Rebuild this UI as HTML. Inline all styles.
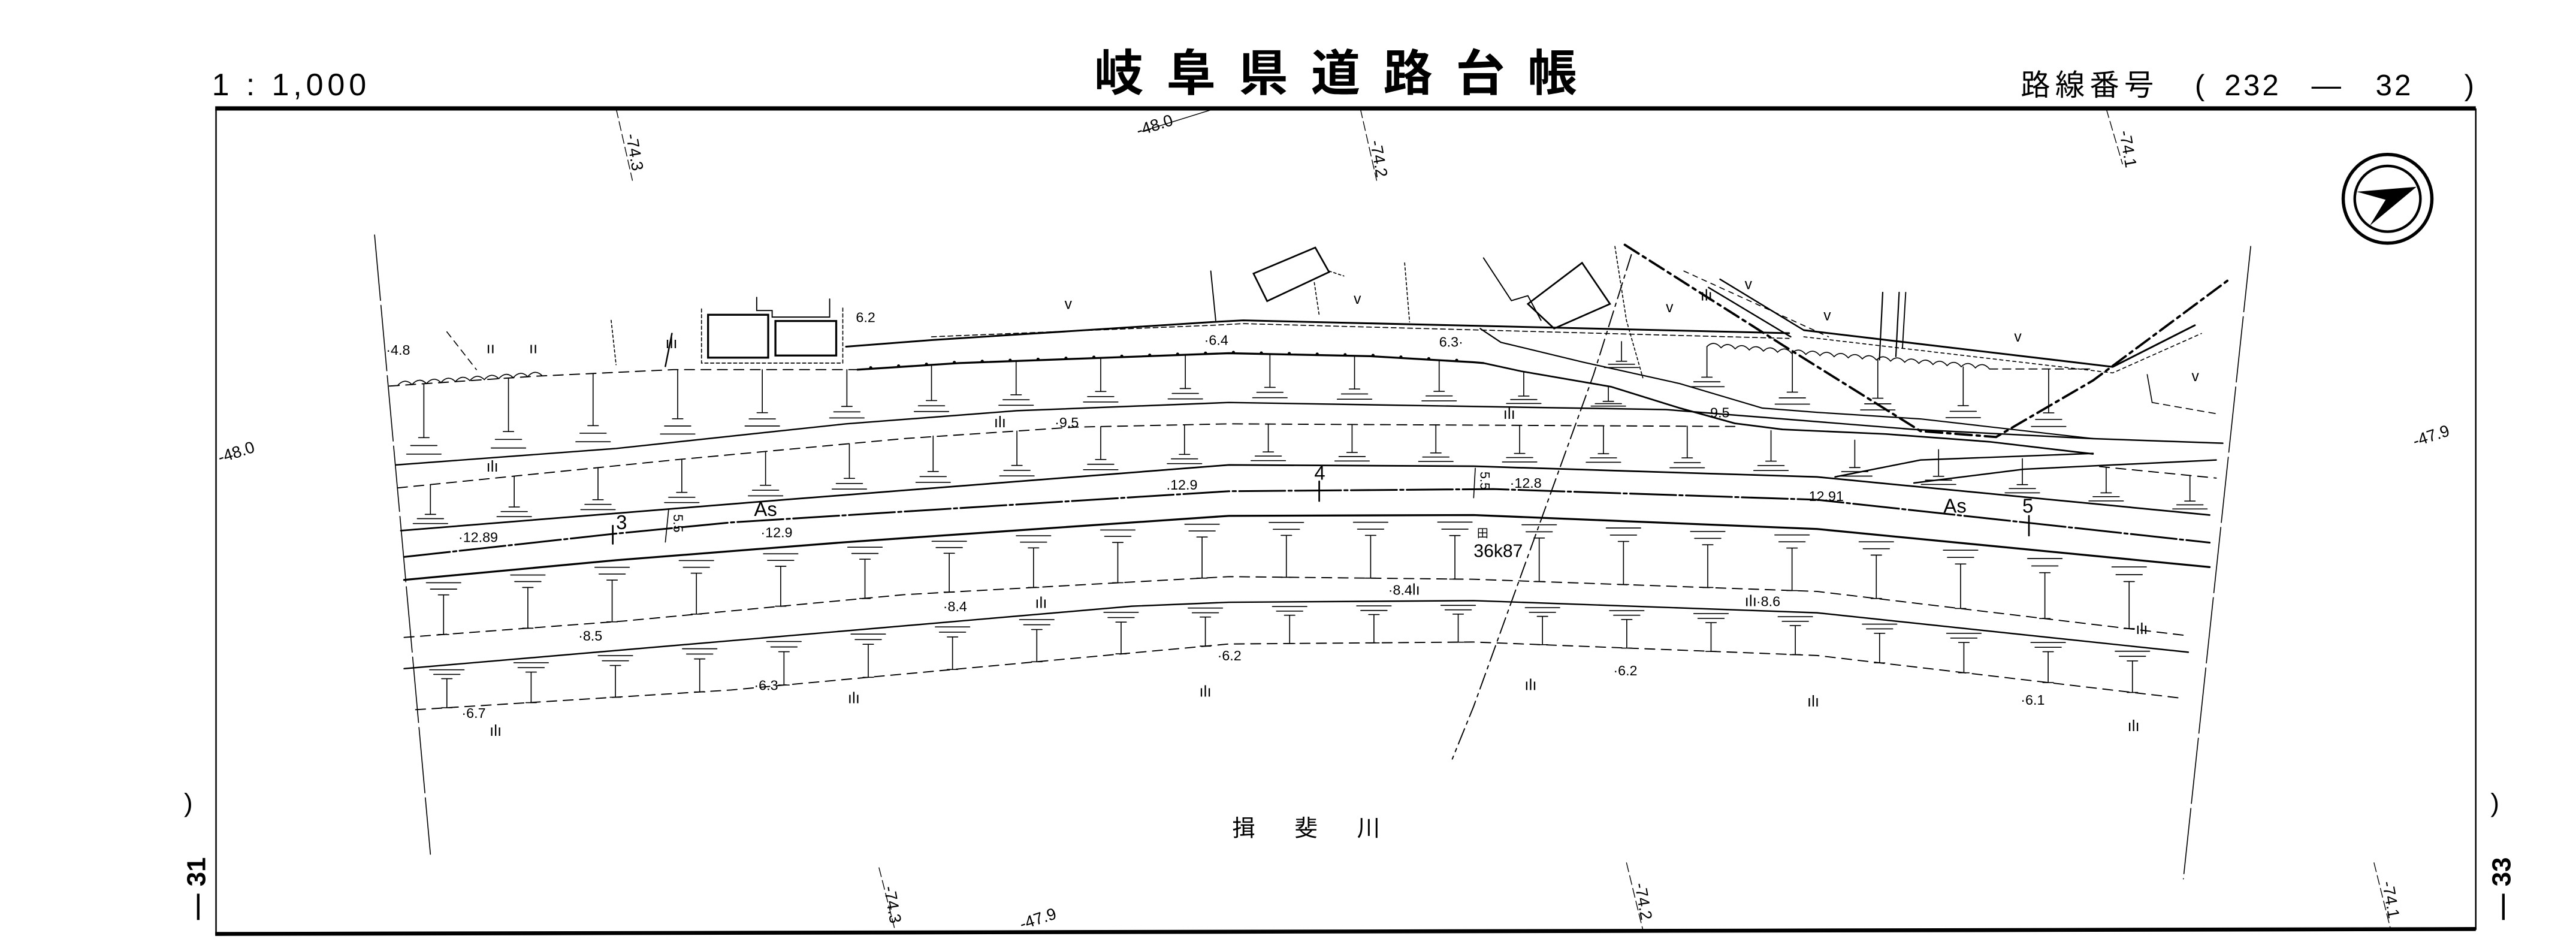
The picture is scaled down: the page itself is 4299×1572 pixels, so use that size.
<!DOCTYPE html>
<html><head><meta charset="utf-8">
<style>
html,body{margin:0;padding:0;background:#fff;}
svg{display:block;}
text{font-family:"Liberation Sans","Noto Sans CJK JP",sans-serif;fill:#000;}
.n{font-size:8.5px;}
.c{font-size:9.5px;}
</style></head>
<body>
<svg xmlns="http://www.w3.org/2000/svg" width="4299" height="1572" viewBox="0 0 1568 573.4" preserveAspectRatio="none">
<rect width="1568" height="573.4" fill="#fff"/>
<text x="129" y="58" style="font-size:19px;letter-spacing:2.5px">1 : 1,000</text>
<text x="666" y="55" style="font-size:30px;font-weight:bold;letter-spacing:14px;font-family:'Noto Sans CJK JP',sans-serif">岐阜県道路台帳</text>
<g style="font-size:18px;font-family:'Liberation Sans','Noto Sans CJK JP',sans-serif">
<text x="1230" y="58" style="letter-spacing:3px">路線番号</text>
<text x="1336" y="58">(</text>
<text x="1354" y="58" style="letter-spacing:1.5px">232</text>
<text x="1407" y="58">—</text>
<text x="1446" y="58" style="letter-spacing:1.5px">32</text>
<text x="1500" y="58">)</text>
</g>
<line x1="131" y1="66" x2="1507" y2="66" stroke="#000" stroke-width="2.6"/>
<line x1="131" y1="568.5" x2="1507" y2="565.5" stroke="#000" stroke-width="2.4"/>
<line x1="131.5" y1="66" x2="131.5" y2="569" stroke="#000" stroke-width="0.9"/>
<line x1="1507" y1="66" x2="1507" y2="566" stroke="#000" stroke-width="0.9"/>
<text x="112" y="494" style="font-size:16px">)</text>
<text x="1516" y="494" style="font-size:16px">)</text>
<text transform="translate(125,560) rotate(-90)" style="font-size:16px;font-weight:bold">— 31</text>
<text transform="translate(1528,560) rotate(-90)" style="font-size:16px;font-weight:bold">— 33</text>
<circle cx="1453.3" cy="121" r="27" fill="none" stroke="#000" stroke-width="2"/>
<circle cx="1453.3" cy="121" r="20" fill="none" stroke="#000" stroke-width="1.6"/>
<path d="M1434.5,116.7 L1470.9,113.7 L1442.4,137.4 L1452.1,121.6 Z" fill="#000"/>
<g style="font-size:10px">
<text transform="translate(381,82) rotate(80)">-74.3</text>
<text transform="translate(693,83) rotate(-18)">-48.0</text>
<text transform="translate(834,86) rotate(80)">-74.2</text>
<text transform="translate(1290,80) rotate(80)">-74.1</text>
<text transform="translate(134,282) rotate(-18)">-48.0</text>
<text transform="translate(1470,272) rotate(-18)">-47.9</text>
<text transform="translate(538,540) rotate(80)">-74.3</text>
<text transform="translate(622,566) rotate(-18)">-47.9</text>
<text transform="translate(995,538) rotate(80)">-74.2</text>
<text transform="translate(1450,537) rotate(80)">-74.1</text>
</g>
<g stroke="#000" stroke-width="0.5" fill="none">
<line x1="375" y1="66" x2="385" y2="110" stroke-dasharray="6,2"/>
<line x1="828" y1="66" x2="838" y2="110" stroke-dasharray="6,2"/>
<line x1="1282" y1="66" x2="1292" y2="100" stroke-dasharray="6,2"/>
<line x1="695" y1="80" x2="740" y2="66"/>
<line x1="535" y1="528" x2="545" y2="567" stroke-dasharray="6,2"/>
<line x1="990" y1="525" x2="1000" y2="566" stroke-dasharray="6,2"/>
<line x1="1445" y1="525" x2="1455" y2="565" stroke-dasharray="6,2"/>
</g>

<g stroke="#000" fill="none" stroke-width="0.6" stroke-linecap="round">
<line x1="228" y1="143" x2="262" y2="520" stroke-dasharray="40,3"/>
<line x1="1370" y1="150" x2="1329" y2="535" stroke-dasharray="40,3"/>
<polyline points="237,235 326,229 410,225 522,225" stroke-width="0.7" stroke-dasharray="6,4"/>
<polyline points="522,225 584,221 748,215 834,216.8 897,220.5 903,221" stroke-width="1.2"/>
<polyline points="530,223.8 584,220.4 748,214.4 834,216.2 897,219.9" stroke-width="1.9" stroke-dasharray="0,17"/>
<polyline points="903,221 926,226 980.6,235.4 1022.5,248.4 1056,257.7 1085,261.4 1148,264.2 1211,268.9 1274,276.3" stroke-width="1.0"/>
<polyline points="901,200 913.6,208.4 963.9,220.5 1022.5,233.5 1072.7,248.4 1106,251 1169,255 1274,267" stroke-width="0.8"/>
<polyline points="241,283 375,273 515,258 619,250 748,245 1014,249.3 1165,261.4 1274,267 1353,269.8" stroke-width="0.9"/>
<polyline points="242,297 410,280 550,267 654,260 748,258 1056,259.6" stroke-width="0.7" stroke-dasharray="6,4"/>
<line x1="1278" y1="284" x2="1349" y2="291" stroke-width="0.7" stroke-dasharray="6,4"/>
<polyline points="244,323 480,304 748,283 897,283.8 1106,290.3 1345,313.5" stroke-width="1.0"/>
<polyline points="246,339 373,325 445,318 748,299 909,297.7 1106,304.2 1345,330.3" stroke-width="1.1" stroke-dasharray="28,2,2,2"/>
<polyline points="246,353 375,341 515,330 748,314 897,313.5 1106,322 1345,345.2" stroke-width="1.2"/>
<polyline points="246,388 380,378 550,362 748,351 897,352.6 1106,360 1332,387" stroke-width="0.7" stroke-dasharray="6,4"/>
<polyline points="246,407 515,384 689,369 748,366.6 897,365.6 1106,373 1332,397" stroke-width="0.9"/>
<polyline points="253,432 445,420 748,392 897,390.8 1106,399 1328,425" stroke-width="0.7" stroke-dasharray="6,4"/>
<polyline points="1117,290.3 1169,280 1274,276" stroke-width="0.9"/>
<polyline points="1165,294 1232,285.6 1349,280" stroke-width="0.9"/>
<path d="M242,234.7 q4.4,-5 8.8,-0.6 q4.4,-5 8.8,-0.6 q4.4,-5 8.8,-0.6 q4.4,-5 8.8,-0.6 q4.4,-5 8.8,-0.6 q4.4,-5 8.8,-0.6 q4.4,-5 8.8,-0.6 q4.4,-5 8.8,-0.6 q4.4,-5 8.8,-0.6 q4.4,-5 8.8,-0.6"/>
<path d="M1039,211 q4.3,-4.3 8.6,0.68 q4.3,-4.3 8.6,0.68 q4.3,-4.3 8.6,0.68 q4.3,-4.3 8.6,0.68 q4.3,-4.3 8.6,0.68 q4.3,-4.3 8.6,0.68 q4.3,-4.3 8.6,0.68 q4.3,-4.3 8.6,0.68 q4.3,-4.3 8.6,0.68 q4.3,-4.3 8.6,0.68 q4.3,-4.3 8.6,0.68 q4.3,-4.3 8.6,0.68 q4.3,-4.3 8.6,0.68 q4.3,-4.3 8.6,0.68 q4.3,-4.3 8.6,0.68 q4.3,-4.3 8.6,0.68 q4.3,-4.3 8.6,0.68 q4.3,-4.3 8.6,0.68 q4.3,-4.3 8.6,0.68 q4.3,-4.3 8.6,0.68"/>
<line x1="1211" y1="224.6" x2="1274" y2="224.6" stroke-dasharray="5,3"/>
<polyline points="515,211 567,207 738,196 756.6,195 1089,202.8" stroke-width="1.1"/>
<polyline points="567,205 738,198 756.6,197 1089,206" stroke-dasharray="3,2"/>
<polyline points="1098,201 1286,223.3 1336,198" stroke-width="1.1"/>
<polyline points="1098,205 1286,227 1340,203" stroke-dasharray="2,2"/>
<line x1="1047" y1="170" x2="1098" y2="201" stroke-width="0.9"/>
<line x1="1040" y1="175" x2="1090" y2="205" stroke-width="0.9"/>
<line x1="1146" y1="178" x2="1144" y2="219" stroke-width="0.8"/>
<line x1="1156" y1="178" x2="1154" y2="217" stroke-width="0.8"/>
<polyline points="989,149 1085,210 1169,262.4 1215,266 1274,231.6 1357,170" stroke-width="1.4" stroke-dasharray="10,3,2,3"/>
<line x1="1025" y1="165" x2="1113" y2="205" stroke-dasharray="3,3"/>
<polyline points="993,155 970,228 897,430 884,462" stroke-width="0.7" stroke-dasharray="10,3,2,3"/>
<rect x="431" y="191.6" width="36.6" height="26.1" stroke-width="1.2"/>
<rect x="472" y="195.4" width="37" height="21" stroke-width="1.2"/>
<polyline points="427,188 427,221 513,221 513,186" stroke-dasharray="2,1.5"/>
<polyline points="460.6,181 460.6,189 470,189 470,193 505,193 505,182" stroke-width="0.7"/>
<polygon points="763,166.5 800.6,150.7 809,165.6 771.3,183.3" stroke-width="1.0"/>
<line x1="809" y1="165" x2="818" y2="168" stroke-dasharray="1.5,1.5"/>
<line x1="800" y1="172" x2="803" y2="192" stroke-dasharray="1.5,1.5"/>
<line x1="855" y1="160" x2="858" y2="196" stroke-dasharray="1.5,1.5"/>
<polygon points="930,185 963,160 980,185 946,200" stroke-width="1.0"/>
<polyline points="903,157 920,183 930,180 938,195" stroke-width="0.7"/>
<polyline points="983,150 990,195 1000,230" stroke-dasharray="1.5,1.5"/>
<line x1="372" y1="195" x2="375" y2="222" stroke-dasharray="1.5,1.5"/>
<line x1="737" y1="165" x2="740" y2="195" stroke-width="0.7"/>
<line x1="1160" y1="178" x2="1158" y2="212" stroke-width="0.7"/>
<line x1="1307" y1="228" x2="1310" y2="245"/>
<line x1="1310" y1="245" x2="1350" y2="252" stroke-dasharray="4,3"/>
<line x1="409" y1="203" x2="405" y2="223" stroke-width="0.9"/>
<line x1="272" y1="202" x2="290" y2="225" stroke-dasharray="4,3"/>
<line x1="373" y1="320" x2="373" y2="331" stroke-width="1.0"/>
<line x1="803" y1="293" x2="803" y2="305" stroke-width="1.0"/>
<line x1="1235" y1="314" x2="1235" y2="326" stroke-width="1.0"/>
<line x1="407" y1="310" x2="405" y2="330"/>
<line x1="898" y1="285" x2="897" y2="303"/>

<path d="
M258,233.8V266.4M254.8,266.4h6.4M250,271.2h16M247.5,276.4h21
M309.5,230.4V262.7M306.3,262.7h6.4M301.5,267.5h16M299,272.7h21
M361,227.3V259.1M357.8,259.1h6.4M353,263.7h16M350.5,268.9h21
M412.5,225V254.9M409.3,254.9h6.4M404.5,259.3h16M402,264.2h21
M464,225V251.2M460.8,251.2h6.4M456,255h16M453.5,259.3h21
M515.5,225V247.4M512.3,247.4h6.4M507.5,250.7h16M505,254.4h21
M567,222.1V243.8M563.8,243.8h6.4M559,247h16M556.5,250.5h21
M618.5,219.7V240.3M615.3,240.3h6.4M610.5,243.3h16M608,246.7h21
M670,217.8V238.3M666.8,238.3h6.4M662,241.4h16M659.5,244.7h21
M721.5,216V236.5M718.3,236.5h6.4M713.5,239.5h16M711,242.8h21
M773,215.5V235.8M769.8,235.8h6.4M765,238.8h16M762.5,242.1h21
M824.5,216.6V236.8M821.3,236.8h6.4M816.5,239.8h16M814,243h21
M876,219.3V238.2M872.8,238.2h6.4M868,241h16M865.5,244h21
M927.5,226.3V241.1M924.3,241.1h6.4M919.5,243.2h16M917,245.6h21
M979,235.1V244.3M975.8,244.3h6.4M971,245.7h16M968.5,247.2h21
"/>
<path d="
M987,207.9V219.9M983.8,219.9h6.4M979,221.7h16M976.5,223.7h21
M1039,211V229.6M1035.8,229.6h6.4M1031,232.4h16M1028.5,235.4h21
M1091,215.1V238.7M1087.8,238.7h6.4M1083,242.2h16M1080.5,246h21
M1143,219.2V242.4M1139.8,242.4h6.4M1135,245.8h16M1132.5,249.5h21
M1195,223.3V246.9M1191.8,246.9h6.4M1187,250.4h16M1184.5,254.2h21
M1247,224.6V251.3M1243.8,251.3h6.4M1239,255.3h16M1236.5,259.6h21
"/>
<path d="
M262,295V313.1M258.8,313.1h6.4M254,315.7h16M251.5,318.7h21
M313,289.8V308.6M309.8,308.6h6.4M305,311.4h16M302.5,314.5h21
M364,284.7V304.2M360.8,304.2h6.4M356,307h16M353.5,310.2h21
M415,279.5V299.7M411.8,299.7h6.4M407,302.7h16M404.5,305.9h21
M466,274.8V295.4M462.8,295.4h6.4M458,298.4h16M455.5,301.8h21
M517,270.1V291.2M513.8,291.2h6.4M509,294.3h16M506.5,297.7h21
M568,265.4V287M564.8,287h6.4M560,290.1h16M557.5,293.6h21
M619,262.4V283.3M615.8,283.3h6.4M611,286.3h16M608.5,289.7h21
M670,259.7V279.7M666.8,279.7h6.4M662,282.6h16M659.5,285.9h21
M721,258.6V276.6M717.8,276.6h6.4M713,279.3h16M710.5,282.2h21
M772,258.1V275.1M768.8,275.1h6.4M764,277.6h16M761.5,280.4h21
M823,258.4V275.4M819.8,275.4h6.4M815,277.9h16M812.5,280.6h21
M874,258.6V275.7M870.8,275.7h6.4M866,278.2h16M863.5,280.9h21
M925,258.9V276M921.8,276h6.4M917,278.5h16M914.5,281.2h21
M976,259.2V276.2M972.8,276.2h6.4M968,278.7h16M965.5,281.4h21
M1027,259.4V278.7M1023.8,278.7h6.4M1019,281.6h16M1016.5,284.7h21
M1078,262.1V280.7M1074.8,280.7h6.4M1070,283.4h16M1067.5,286.4h21
M1129,267.9V284.6M1125.8,284.6h6.4M1121,287.1h16M1118.5,289.8h21
M1180,273.7V289.9M1176.8,289.9h6.4M1172,292.3h16M1169.5,294.9h21
M1231,279.2V295M1227.8,295h6.4M1223,297.4h16M1220.5,300h21
M1282,284.4V300M1278.8,300h6.4M1274,302.3h16M1271.5,304.9h21
M1333,289.4V305M1329.8,305h6.4M1325,307.3h16M1322.5,309.8h21
"/>
<path d="
M270,386.2V362.1M266.8,362.1h6.4M266.8,386.2h6.4M262,358.6h16M259.5,354.7h21
M321.3,382.4V357.6M318.1,357.6h6.4M318.1,382.4h6.4M313.3,354h16M310.8,350h21
M372.6,378.5V353.1M369.4,353.1h6.4M369.4,378.5h6.4M364.6,349.4h16M362.1,345.3h21
M423.9,373.8V348.9M420.7,348.9h6.4M420.7,373.8h6.4M415.9,345.3h16M413.4,341.2h21
M475.2,369V344.7M472,344.7h6.4M472,369h6.4M467.2,341.1h16M464.7,337.1h21
M526.5,364.3V340.4M523.3,340.4h6.4M523.3,364.3h6.4M518.5,336.9h16M516,333.1h21
M577.8,360.4V336.8M574.6,336.8h6.4M574.6,360.4h6.4M569.8,333.3h16M567.3,329.5h21
M629.1,357.6V333.5M625.9,333.5h6.4M625.9,357.6h6.4M621.1,330h16M618.6,326.1h21
M680.4,354.7V330.2M677.2,330.2h6.4M677.2,354.7h6.4M672.4,326.5h16M669.9,322.6h21
M731.7,351.9V326.9M728.5,326.9h6.4M728.5,351.9h6.4M723.7,323.2h16M721.2,319.1h21
M783,351.4V325.9M779.8,325.9h6.4M779.8,351.4h6.4M775,322.2h16M772.5,318h21
M834.3,351.9V325.9M831.1,325.9h6.4M831.1,351.9h6.4M826.3,322.1h16M823.8,317.9h21
M885.6,352.5V326M882.4,326h6.4M882.4,352.5h6.4M877.6,322.1h16M875.1,317.8h21
M936.9,354V327.5M933.7,327.5h6.4M933.7,354h6.4M928.9,323.7h16M926.4,319.4h21
M988.2,355.8V329.6M985,329.6h6.4M985,355.8h6.4M980.2,325.7h16M977.7,321.4h21
M1039.5,357.6V331.6M1036.3,331.6h6.4M1036.3,357.6h6.4M1031.5,327.7h16M1029,323.5h21
M1090.8,359.5V333.6M1087.6,333.6h6.4M1087.6,359.5h6.4M1082.8,329.8h16M1080.3,325.6h21
M1142.1,364.3V337.9M1138.9,337.9h6.4M1138.9,364.3h6.4M1134.1,334h16M1131.6,329.8h21
M1193.4,370.4V343.3M1190.2,343.3h6.4M1190.2,370.4h6.4M1185.4,339.3h16M1182.9,334.9h21
M1244.7,376.5V348.6M1241.5,348.6h6.4M1241.5,376.5h6.4M1236.7,344.5h16M1234.2,340h21
M1296,382.6V354M1292.8,354h6.4M1292.8,382.6h6.4M1288,349.8h16M1285.5,345.1h21
"/>
<path d="
M272,430.8V413.1M268.8,413.1h6.4M268.8,430.8h6.4M264,410.5h16M261.5,407.7h21
M323.3,427.7V409.1M320.1,409.1h6.4M320.1,427.7h6.4M315.3,406.4h16M312.8,403.4h21
M374.6,424.4V405.1M371.4,405.1h6.4M371.4,424.4h6.4M366.6,402.2h16M364.1,399.1h21
M425.9,421.2V401.1M422.7,401.1h6.4M422.7,421.2h6.4M417.9,398.1h16M415.4,394.9h21
M477.2,417V396.7M474,396.7h6.4M474,417h6.4M469.2,393.8h16M466.7,390.5h21
M528.5,412.3V392.2M525.3,392.2h6.4M525.3,412.3h6.4M520.5,389.3h16M518,386h21
M579.8,407.5V387.7M576.6,387.7h6.4M576.6,407.5h6.4M571.8,384.8h16M569.3,381.6h21
M631.1,402.8V383.2M627.9,383.2h6.4M627.9,402.8h6.4M623.1,380.3h16M620.6,377.2h21
M682.4,398V378.7M679.2,378.7h6.4M679.2,398h6.4M674.4,375.9h16M671.9,372.7h21
M733.7,393.3V375.6M730.5,375.6h6.4M730.5,393.3h6.4M725.7,373h16M723.2,370.1h21
M785,391.7V374.5M781.8,374.5h6.4M781.8,391.7h6.4M777,372h16M774.5,369.2h21
M836.3,391.3V374.1M833.1,374.1h6.4M833.1,391.3h6.4M828.3,371.6h16M825.8,368.8h21
M887.6,390.9V373.8M884.4,373.8h6.4M884.4,390.9h6.4M879.6,371.2h16M877.1,368.5h21
M938.9,392.4V375.2M935.7,375.2h6.4M935.7,392.4h6.4M930.9,372.7h16M928.4,369.9h21
M990.2,394.5V377.1M987,377.1h6.4M987,394.5h6.4M982.2,374.5h16M979.7,371.7h21
M1041.5,396.5V379M1038.3,379h6.4M1038.3,396.5h6.4M1033.5,376.4h16M1031,373.5h21
M1092.8,398.5V380.8M1089.6,380.8h6.4M1089.6,398.5h6.4M1084.8,378.2h16M1082.3,375.4h21
M1144.1,403.5V385.5M1140.9,385.5h6.4M1140.9,403.5h6.4M1136.1,382.8h16M1133.6,379.9h21
M1195.4,409.5V391.1M1192.2,391.1h6.4M1192.2,409.5h6.4M1187.4,388.4h16M1184.9,385.5h21
M1246.7,415.5V396.7M1243.5,396.7h6.4M1243.5,415.5h6.4M1238.7,394h16M1236.2,391.1h21
M1298,421.5V402.3M1294.8,402.3h6.4M1294.8,421.5h6.4M1290,399.5h16M1287.5,396.4h21
"/>
</g>

<g class="n">
<text x="235" y="216">·4.8</text>
<text x="521" y="196">6.2</text>
<text x="733" y="210">·6.4</text>
<text x="876" y="211">6.3·</text>
<text x="642" y="260">·9.5</text>
<text x="1041" y="254">9.5</text>
<text x="279" y="330">·12.89</text>
<text x="463" y="327">·12.9</text>
<text x="710" y="298">.12.9</text>
<text x="919" y="297">·12.8</text>
<text x="1101" y="305">12.91</text>
<text x="352" y="390">·8.5</text>
<text x="574" y="372">·8.4</text>
<text x="845" y="362">·8.4</text>
<text x="1069" y="369">·8.6</text>
<text x="459" y="420">·6.3</text>
<text x="741" y="402">·6.2</text>
<text x="982" y="411">·6.2</text>
<text x="1230" y="429">·6.1</text>
<text x="281" y="437">·6.7</text>
</g>
<g style="font-size:12px">
<text x="375" y="322">3</text>
<text x="459" y="314">As</text>
<text x="800" y="292">4</text>
<text x="1183" y="312">As</text>
<text x="1231" y="312">5</text>
<text x="897" y="339" style="font-size:11px">36k87</text>
<text x="899" y="327" style="font-size:7px">田</text>
<text transform="translate(410,313) rotate(90)" style="font-size:8px">5.5</text>
<text transform="translate(901,287) rotate(90)" style="font-size:8px">5.5</text>
</g>
<g class="c">
<text x="405" y="212">ılı</text><text x="296" y="287">ılı</text><text x="630" y="370">ılı</text>
<text x="298" y="448">ılı</text><text x="516" y="428">ılı</text><text x="730" y="424">ılı</text>
<text x="928" y="420">ılı</text><text x="1100" y="430">ılı</text><text x="1295" y="445">ılı</text>
<text x="1062" y="369">ılı</text><text x="1300" y="386">ılı</text><text x="857" y="362">ılı</text>
<text x="605" y="260">ılı</text><text x="915" y="255">ılı</text><text x="1035" y="183">ılı</text>
<text x="296" y="215">ıı</text><text x="322" y="215">ıı</text>
</g>
<g style="font-size:9px">
<text x="648" y="188">v</text><text x="824" y="185">v</text><text x="1014" y="190">v</text>
<text x="1062" y="176">v</text><text x="1110" y="195">v</text><text x="1226" y="208">v</text><text x="1334" y="232">v</text>
</g>
<text x="750" y="509" style="font-size:14px;letter-spacing:24px;font-family:'Noto Sans CJK JP',sans-serif">揖斐川</text>
</svg>
</body></html>
